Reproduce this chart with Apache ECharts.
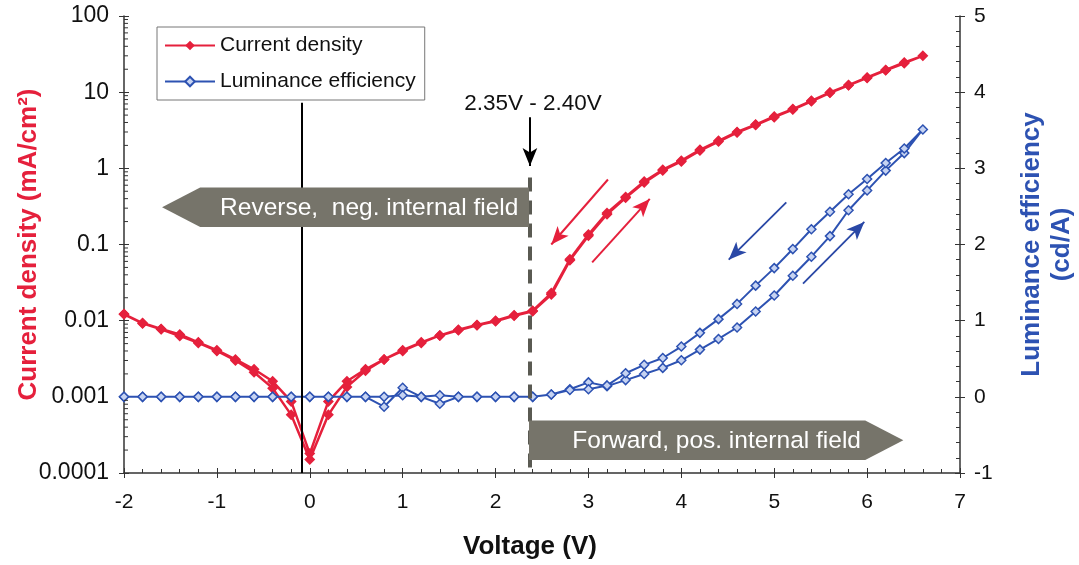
<!DOCTYPE html>
<html>
<head>
<meta charset="utf-8">
<script src="https://cdn.jsdelivr.net/npm/echarts@6/dist/echarts.min.js"></script>
<style>
  html, body { margin: 0; padding: 0; background: #fff; }
  #chart { width: 1079px; height: 565px; }
</style>
</head>
<body>
<div id="chart"></div>
<script>
// Voltage sweep: up from -2 V to 6.6 V, then back down to -2 V
const voltageUp = [-2.0, -1.8, -1.6, -1.4, -1.2, -1.0, -0.8, -0.6, -0.4, -0.2, 0.0,
  0.2, 0.4, 0.6, 0.8, 1.0, 1.2, 1.4, 1.6, 1.8, 2.0, 2.2, 2.4,
  2.6, 2.8, 3.0, 3.2, 3.4, 3.6, 3.8, 4.0, 4.2, 4.4, 4.6, 4.8, 5.0,
  5.2, 5.4, 5.6, 5.8, 6.0, 6.2, 6.4, 6.6];
const voltageDown = [6.4, 6.2, 6.0, 5.8, 5.6, 5.4, 5.2, 5.0, 4.8, 4.6, 4.4, 4.2,
  4.0, 3.8, 3.6, 3.4, 3.2, 3.0, 2.8, 2.6,
  2.4, 2.2, 2.0, 1.8, 1.6, 1.4, 1.2, 1.0, 0.8, 0.6, 0.4, 0.2, 0.0,
  -0.2, -0.4, -0.6, -0.8, -1.0, -1.2, -1.4, -1.6, -1.8, -2.0];

// Current density (mA/cm²)
const currentUp = [0.0122, 0.0093, 0.0078, 0.0066, 0.0052, 0.0041, 0.0031, 0.0023, 0.0016, 0.00087, 0.00018,
  0.00087, 0.0016, 0.0023, 0.0031, 0.0040, 0.0051, 0.0064, 0.0075, 0.0087, 0.0098, 0.0116, 0.0133,
  0.022, 0.062, 0.13, 0.25, 0.41, 0.65, 0.94, 1.23, 1.71, 2.25, 2.95, 3.7, 4.7,
  5.9, 7.6, 9.8, 12.3, 15.4, 19.4, 24, 30];
const currentDown = [24.5, 19.6, 15.6, 12.4, 9.9, 7.7, 6.0, 4.8, 3.75, 3.0, 2.3, 1.75,
  1.26, 0.96, 0.67, 0.42, 0.26, 0.135, 0.064, 0.023,
  0.0135, 0.0118, 0.0100, 0.0088, 0.0076, 0.0064, 0.0052, 0.0041, 0.0031, 0.0022, 0.00135, 0.00058, 0.00015,
  0.00058, 0.0013, 0.0021, 0.0030, 0.0040, 0.0051, 0.0063, 0.0077, 0.0092, 0.0121];

// Luminance efficiency (cd/A)
const luminanceUp = [0, 0, 0, 0, 0, 0, 0, 0, 0, 0, 0,
  0, 0, 0, -0.13, 0.12, 0, -0.09, 0, 0, 0, 0, 0,
  0.03, 0.10, 0.19, 0.14, 0.22, 0.30, 0.38, 0.48, 0.62, 0.76, 0.91, 1.12, 1.33,
  1.59, 1.84, 2.11, 2.45, 2.71, 2.97, 3.20, 3.51];
const luminanceDown = [3.26, 3.07, 2.86, 2.66, 2.43, 2.20, 1.94, 1.69, 1.46, 1.22, 1.02, 0.84,
  0.66, 0.51, 0.42, 0.31, 0.15, 0.10, 0.09, 0.03,
  0, 0, 0, 0, 0, 0.02, 0, 0.02, 0, 0, 0, 0, 0,
  0, 0, 0, 0, 0, 0, 0, 0, 0, 0];

const currentTicks = [100, 10, 1, 0.1, 0.01, 0.001, 0.0001];

const RED = '#e5203c';
const BLUE = '#2d52b2';
const FONT = '"Liberation Sans", Arial, sans-serif';

function sweep(vUp, yUp, vDown, yDown) {
  const pts = [];
  vUp.forEach((v, i) => pts.push([v, yUp[i]]));
  vDown.forEach((v, i) => pts.push([v, yDown[i]]));
  return pts;
}

const chart = echarts.init(document.getElementById('chart'), null, { renderer: 'canvas' });

const axisLine = { show: true, onZero: false, lineStyle: { color: '#333', width: 1.5 } };
const hiddenLine = { show: false, onZero: false };
const tickLabel = { color: '#111', fontSize: 21, fontFamily: FONT };

chart.setOption({
  animation: false,
  backgroundColor: '#fff',
  grid: { left: 124, right: 119, top: 16, bottom: 92, containLabel: false, outerBoundsMode: 'none' },
  legend: {
    left: 157, top: 27,
    orient: 'vertical',
    padding: [8, 9, 8, 7],
    itemGap: 15,
    itemWidth: 50, itemHeight: 12,
    backgroundColor: '#fff',
    borderColor: '#777', borderWidth: 1,
    textStyle: { color: '#111', fontSize: 21, fontFamily: FONT },
    data: ['Current density', 'Luminance efficiency']
  },
  xAxis: [{
    type: 'value', min: -2, max: 7, interval: 1,
    name: 'Voltage (V)', nameLocation: 'middle', nameGap: 61, nameMoveOverlap: false,
    nameTextStyle: { color: '#111', fontSize: 26, fontWeight: 'bold', fontFamily: FONT, padding: [0, 24, 0, 0] },
    axisLine: axisLine,
    axisTick: { show: true, inside: true, length: 5, lineStyle: { color: '#333' } },
    minorTick: { show: true, splitNumber: 5, length: 4, lineStyle: { color: '#333' } },
    axisLabel: Object.assign({ margin: 19 }, tickLabel),
    splitLine: { show: false }
  }, {
    type: 'value', min: -2, max: 7, interval: 1, position: 'bottom',
    axisLine: hiddenLine,
    axisTick: { show: true, inside: false, length: 5, lineStyle: { color: '#333' } },
    axisLabel: { show: false }, splitLine: { show: false }
  }],
  yAxis: [{
    type: 'log', logBase: 10, min: 0.0001, max: 100, position: 'left',
    name: 'Current density (mA/cm²)', nameLocation: 'middle', nameGap: 82, nameRotate: 90, nameMoveOverlap: false,
    nameTextStyle: { color: RED, fontSize: 26, fontWeight: 'bold', fontFamily: FONT },
    axisLine: axisLine,
    axisTick: { show: true, inside: true, length: 5, lineStyle: { color: '#333' } },
    axisLabel: Object.assign({}, tickLabel, { margin: 15, fontSize: 23, formatter: v => String(currentTicks.find(t => Math.abs(t - v) / t < 1e-6) ?? v) }),
    splitLine: { show: false }
  }, {
    type: 'value', min: -1, max: 5, interval: 1, position: 'right',
    name: 'Luminance efficiency\n(cd/A)', nameLocation: 'middle', nameGap: 57, nameRotate: 90, nameMoveOverlap: false,
    nameTextStyle: { color: BLUE, fontSize: 26, fontWeight: 'bold', fontFamily: FONT, lineHeight: 30, align: 'center' },
    axisLine: axisLine,
    axisTick: { show: true, inside: true, length: 5, lineStyle: { color: '#333' } },
    minorTick: { show: true, splitNumber: 5, length: 4, lineStyle: { color: '#333' } },
    axisLabel: Object.assign({ margin: 14 }, tickLabel),
    splitLine: { show: false }
  }, {
    type: 'log', logBase: 10, min: 0.0001, max: 100, position: 'left',
    axisLine: hiddenLine,
    axisTick: { show: true, inside: false, length: 5, lineStyle: { color: '#333' } },
    axisLabel: { show: false }, splitLine: { show: false }
  }, {
    type: 'value', min: -1, max: 5, interval: 1, position: 'right',
    axisLine: hiddenLine,
    axisTick: { show: true, inside: false, length: 5, lineStyle: { color: '#333' } },
    axisLabel: { show: false }, splitLine: { show: false }
  }],
  series: [{
    name: 'Current density',
    type: 'line',
    xAxisIndex: 0, yAxisIndex: 0,
    data: sweep(voltageUp, currentUp, voltageDown, currentDown),
    symbol: 'diamond', symbolSize: 11,
    lineStyle: { color: RED, width: 2.5 },
    itemStyle: { color: RED },
    z: 3,
    markLine: {
      silent: true, symbol: ['none', 'arrow'], symbolSize: [11, 18],
      label: { show: false },
      lineStyle: { color: RED, width: 2, type: 'solid' },
      data: [
        [{ coord: [3.21, 0.713] }, { coord: [2.60, 0.1] }],
        [{ coord: [3.04, 0.0583] }, { coord: [3.66, 0.397] }]
      ]
    }
  }, {
    name: 'Luminance efficiency',
    type: 'line',
    xAxisIndex: 0, yAxisIndex: 1,
    data: sweep(voltageUp, luminanceUp, voltageDown, luminanceDown),
    symbol: 'diamond', symbolSize: 9,
    lineStyle: { color: BLUE, width: 2 },
    itemStyle: { color: '#c6d3f2', borderColor: BLUE, borderWidth: 1.5 },
    z: 3,
    markLine: {
      silent: true, symbol: ['none', 'arrow'], symbolSize: [11, 18],
      label: { show: false },
      lineStyle: { color: '#2a48a6', width: 1.8, type: 'solid' },
      data: [
        [{ coord: [5.13, 2.553] }, { coord: [4.51, 1.80] }],
        [{ coord: [5.31, 1.485] }, { coord: [5.97, 2.296] }],
        // threshold arrow under the voltage-window label
        [{ coord: [2.37, 3.67], lineStyle: { color: '#000', width: 2 } },
         { coord: [2.37, 3.03] }],
        // zero-crossing marker
        [{ coord: [-0.09, 3.86], symbol: 'none', lineStyle: { color: '#000', width: 2 } },
         { coord: [-0.09, -1], symbol: 'none' }],
        // field inversion threshold
        [{ coord: [2.37, 2.88], symbol: 'none', lineStyle: { color: '#5a5a52', width: 4, type: [14, 9] } },
         { coord: [2.37, -0.97], symbol: 'none' }]
      ]
    }
  }]
});

// Annotations placed in data space: field-direction banners and the voltage-window label
function px(v, l) { return chart.convertToPixel({ xAxisIndex: 0, yAxisIndex: 1 }, [v, l]); }

const banners = [
  { text: 'Reverse,  neg. internal field', tip: -1.59, start: -1.18, end: 2.36, top: 2.75, bottom: 2.23, textV: 0.64 },
  { text: 'Forward, pos. internal field', tip: 6.39, start: 5.98, end: 2.36, top: -0.31, bottom: -0.83, textV: 4.38 }
];

const graphics = [];
banners.forEach(b => {
  const midL = (b.top + b.bottom) / 2;
  const pts = [px(b.tip, midL), px(b.start, b.top), px(b.end, b.top), px(b.end, b.bottom), px(b.start, b.bottom)];
  graphics.push({ type: 'polygon', z: 20, shape: { points: pts }, style: { fill: '#76746a' } });
  const c = px(b.textV, midL);
  graphics.push({
    type: 'text', z: 21, x: c[0], y: c[1] + 1,
    style: { text: b.text, fill: '#fff', font: '24.5px ' + FONT, align: 'center', verticalAlign: 'middle' }
  });
});

const lbl = px(2.37, 3.85);
graphics.push({
  type: 'text', z: 21, x: lbl[0] + 3, y: lbl[1],
  style: { text: '2.35V - 2.40V', fill: '#111', font: '22.5px ' + FONT, align: 'center', verticalAlign: 'middle' }
});

// Logarithmic minor ticks on the current-density axis
const x0 = chart.convertToPixel({ xAxisIndex: 0 }, -2);
for (let n = -4; n < 2; n++) {
  for (let k = 2; k <= 9; k++) {
    const y = chart.convertToPixel({ yAxisIndex: 0 }, k * Math.pow(10, n));
    graphics.push({ type: 'line', z: 5, shape: { x1: x0, y1: y, x2: x0 + 4, y2: y }, style: { stroke: '#333', lineWidth: 1 } });
  }
}

chart.setOption({ graphic: graphics });
</script>
</body>
</html>
